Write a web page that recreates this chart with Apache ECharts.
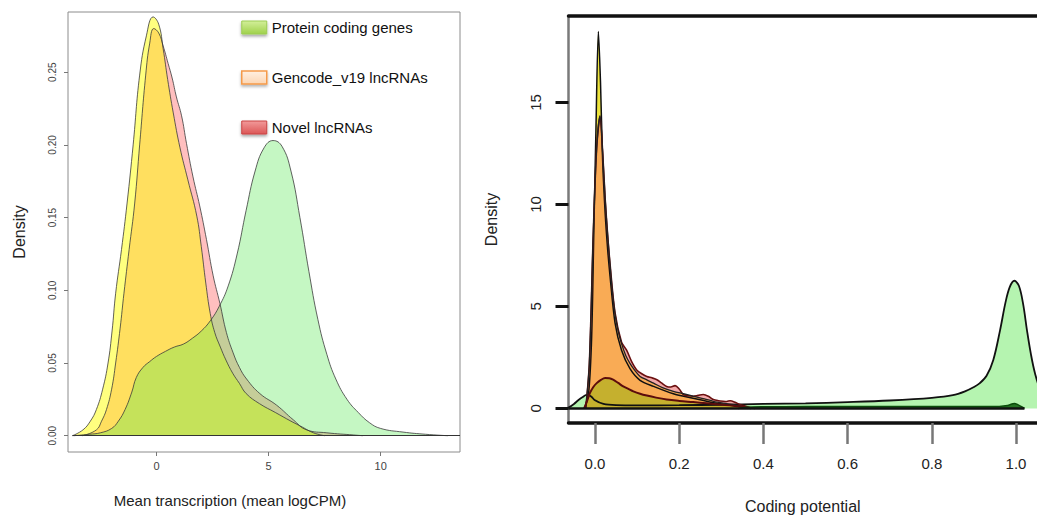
<!DOCTYPE html>
<html>
<head>
<meta charset="utf-8">
<script src="https://cdn.jsdelivr.net/npm/echarts@6/dist/echarts.min.js"></script>
<style>
html,body{margin:0;padding:0;background:#fff;}
#chart{width:1037px;height:519px;}
</style>
</head>
<body>
<div id="chart"></div>
<script>
// ---------- Left panel: mean transcription (logCPM) densities ----------
const leftXTicks = [0, 5, 10];
const leftYTicks = [0, 0.05, 0.10, 0.15, 0.20, 0.25];

const protLeftX = [-3.7,-3.0,-2.5,-2.0,-1.7,-1.4,-1.1,-0.9,-0.6,-0.3,0,0.4,0.8,1.2,1.6,2.0,2.4,2.8,3.2,3.6,4.0,4.4,4.8,5.2,5.6,6.0,6.4,6.8,7.2,7.6,8.0,8.5,9.0,9.5,10.0,11.0,12.0,13.0];
const protLeftY = [0,0.001,0.002,0.005,0.01,0.018,0.03,0.04,0.047,0.051,0.0545,0.058,0.061,0.063,0.067,0.072,0.079,0.089,0.103,0.125,0.155,0.182,0.198,0.203,0.199,0.182,0.15,0.113,0.08,0.056,0.039,0.025,0.016,0.009,0.005,0.0025,0.001,0];

const gencodeLeftX = [-3.75,-3.28,-2.95,-2.68,-2.4,-2.16,-1.98,-1.82,-1.56,-1.31,-1.04,-0.75,-0.45,-0.15,0.1,0.3,0.5,0.75,1.05,1.4,1.8,2.0,2.2,2.4,2.6,2.85,3.1,3.4,3.7,4.0,4.6,5.3,6.0,6.5,7.0,7.5];
const gencodeLeftY = [0,0.004,0.01,0.018,0.032,0.05,0.072,0.098,0.128,0.16,0.2,0.248,0.275,0.288,0.283,0.266,0.245,0.222,0.198,0.176,0.151,0.13,0.105,0.084,0.071,0.061,0.052,0.043,0.036,0.029,0.022,0.016,0.01,0.006,0.002,0];

const novelLeftX = [-3.3,-2.68,-2.45,-2.23,-2.0,-1.82,-1.62,-1.45,-1.22,-0.97,-0.75,-0.48,-0.3,-0.12,0.1,0.3,0.52,0.7,0.89,1.12,1.34,1.63,1.93,2.23,2.53,2.83,3.12,3.42,3.7,4.02,4.61,5.36,6.1,6.7,7.6,8.8,9.2];
const novelLeftY = [0,0.004,0.01,0.018,0.032,0.05,0.074,0.098,0.128,0.16,0.2,0.248,0.27,0.28,0.277,0.268,0.256,0.246,0.233,0.22,0.201,0.178,0.158,0.135,0.11,0.091,0.071,0.057,0.047,0.039,0.029,0.021,0.011,0.004,0.002,0.0005,0];

// ---------- Right panel: coding potential densities ----------
const rightXTicks = [0, 0.2, 0.4, 0.6, 0.8, 1.0];
const rightYTicks = [0, 5, 10, 15];

const protRightX = [-0.07,-0.063,-0.05,-0.04,-0.03,-0.02,-0.01,0,0.02,0.05,0.1,0.2,0.3,0.4,0.5,0.6,0.7,0.8,0.85,0.88,0.9,0.914,0.93,0.946,0.962,0.975,0.985,0.996,1.007,1.017,1.026,1.035,1.045,1.06,1.08,1.1,1.12];
const protRightY = [0,0.04,0.22,0.4,0.55,0.66,0.6,0.4,0.22,0.16,0.15,0.16,0.18,0.22,0.25,0.31,0.39,0.52,0.65,0.85,1.05,1.24,1.6,2.38,3.83,5.2,5.95,6.26,6.0,5.1,3.83,2.7,1.73,0.8,0.3,0.1,0];

const spikeRightX = [-0.025,-0.015,-0.008,-0.003,0.002,0.008,0.013,0.018,0.024,0.03,0.0356,0.0475,0.063,0.083,0.107,0.139,0.186,0.233,0.281,0.329,0.37];
const spikeRightY = [0,0.8,3.5,8.5,13.5,18.48,16.0,12.2,9.6,7.8,6.5,4.2,2.85,1.95,1.38,1.08,0.72,0.5,0.28,0.14,0];

const novelRightX = [-0.022,-0.0135,-0.004,0.004,0.0119,0.018,0.024,0.03,0.0356,0.0475,0.063,0.075,0.087,0.099,0.111,0.123,0.135,0.147,0.158,0.17,0.18,0.19,0.2,0.21,0.222,0.233,0.245,0.257,0.269,0.281,0.293,0.305,0.313,0.321,0.333,0.344,0.356,0.368,0.38];
const novelRightY = [0,2.2,8.7,12.8,14.3,12.6,10.3,8.5,7.1,4.7,3.25,2.86,2.3,1.89,1.7,1.57,1.5,1.41,1.25,1.08,1.05,1.12,0.95,0.68,0.62,0.6,0.64,0.68,0.6,0.44,0.38,0.35,0.34,0.38,0.3,0.19,0.12,0.05,0];

const gencodeRightX = [-0.022,-0.0135,-0.004,0.004,0.0119,0.018,0.024,0.03,0.0356,0.0415,0.0475,0.055,0.063,0.073,0.083,0.095,0.107,0.123,0.139,0.16,0.186,0.21,0.233,0.26,0.281,0.305,0.329,0.35,0.37];
const gencodeRightY = [0,2.2,8.7,12.8,14.35,12.6,10.3,8.5,7.07,5.7,4.64,3.8,3.18,2.6,2.21,1.85,1.57,1.4,1.24,1.02,0.84,0.72,0.6,0.47,0.35,0.26,0.19,0.1,0];

const broadRightX = [-0.026,-0.02,-0.012,-0.004,0.004,0.014,0.024,0.034,0.043,0.055,0.067,0.08,0.091,0.107,0.123,0.145,0.17,0.2,0.233,0.265,0.297,0.32,0.344,0.36,0.365];
const broadRightY = [0,0.3,0.76,1.05,1.24,1.4,1.49,1.48,1.41,1.25,1.08,0.95,0.84,0.72,0.63,0.53,0.44,0.37,0.31,0.25,0.19,0.15,0.1,0.07,0];

const darkRightX = [0.34,0.36,0.4,0.5,0.6,0.7,0.8,0.9,0.96,0.98,0.99,0.996,1.003,1.012,1.02];
const darkRightY = [0,0.06,0.08,0.09,0.1,0.1,0.1,0.1,0.1,0.14,0.22,0.24,0.2,0.1,0];

const legendNames = ['Protein coding genes', 'Gencode_v19 lncRNAs', 'Novel lncRNAs'];

// ---------- build ----------
const zip = (xs, ys) => xs.map((x, i) => [x, ys[i]]);
const FONT = 'Liberation Sans, Arial, Helvetica, sans-serif';

function area(name, xi, yi, xs, ys, fill, stroke, width, smooth, extra) {
  return Object.assign({
    name: name, type: 'line', xAxisIndex: xi, yAxisIndex: yi,
    data: zip(xs, ys), symbol: 'none', smooth: smooth,
    lineStyle: { color: stroke, width: width },
    itemStyle: { color: fill },
    areaStyle: { color: fill, opacity: 1 },
    z: 2
  }, extra || {});
}

const chart = echarts.init(document.getElementById('chart'), null, { renderer: 'svg' });

const option = {
  animation: false,
  backgroundColor: '#ffffff',
  textStyle: { fontFamily: FONT },
  grid: [
    { left: 68, top: 12, width: 392, height: 440, show: true, borderColor: '#8c8c8c', borderWidth: 1, backgroundColor: 'transparent' },
    { left: 568.5, top: 16, width: 468.5, height: 411, show: false }
  ],
  legend: {
    orient: 'vertical', left: 241, top: 20, padding: 0,
    itemWidth: 25, itemHeight: 13, itemGap: 35,
    textStyle: { fontSize: 15, color: '#111', fontFamily: FONT },
    data: [
      { name: legendNames[0], icon: 'rect', itemStyle: { color: { type: 'linear', x: 0, y: 0, x2: 0, y2: 1, colorStops: [{ offset: 0, color: '#d3ef9a' }, { offset: 1, color: '#9fd14a' }] }, borderColor: '#9ccc55', borderWidth: 1, shadowBlur: 3, shadowOffsetY: 2, shadowColor: 'rgba(0,0,0,0.35)' } },
      { name: legendNames[1], icon: 'rect', itemStyle: { color: { type: 'linear', x: 0, y: 0, x2: 0, y2: 1, colorStops: [{ offset: 0, color: '#fff0e2' }, { offset: 1, color: '#fcd6b4' }] }, borderColor: '#f59a4a', borderWidth: 1.5, shadowBlur: 3, shadowOffsetY: 2, shadowColor: 'rgba(0,0,0,0.3)' } },
      { name: legendNames[2], icon: 'rect', itemStyle: { color: { type: 'linear', x: 0, y: 0, x2: 0, y2: 1, colorStops: [{ offset: 0, color: '#f29a9a' }, { offset: 1, color: '#dc5656' }] }, borderColor: '#c94545', borderWidth: 1, shadowBlur: 3, shadowOffsetY: 2, shadowColor: 'rgba(0,0,0,0.35)' } }
    ]
  },
  xAxis: [
    {
      gridIndex: 0, type: 'value', min: -3.946, max: 13.54,
      axisLine: { show: false, onZero: false },
      axisTick: { show: true, customValues: leftXTicks, length: 4, lineStyle: { color: '#777', width: 1 } },
      axisLabel: { customValues: leftXTicks, fontSize: 11, color: '#444', margin: 8 },
      splitLine: { show: false },
      name: 'Mean transcription (mean logCPM)', nameLocation: 'middle', nameGap: 41,
      nameTextStyle: { fontSize: 15, color: '#222', padding: [0, 68, 0, 0] }
    },
    {
      gridIndex: 1, type: 'value', min: -0.063, max: 1.0498,
      axisLine: { show: true, onZero: false, lineStyle: { color: '#111', width: 3.5 } },
      axisTick: { show: true, customValues: rightXTicks, length: 21, lineStyle: { color: '#777', width: 2.5 } },
      axisLabel: { customValues: rightXTicks, fontSize: 15, color: '#222', margin: 33, formatter: v => v.toFixed(1) },
      splitLine: { show: false },
      name: 'Coding potential', nameLocation: 'middle', nameGap: 75,
      nameTextStyle: { fontSize: 16, color: '#222' }
    },
    {
      gridIndex: 1, type: 'value', min: -0.063, max: 1.0498, position: 'top',
      axisLine: { show: true, onZero: false, lineStyle: { color: '#111', width: 3.5 } },
      axisTick: { show: false }, axisLabel: { show: false }, splitLine: { show: false }
    }
  ],
  yAxis: [
    {
      gridIndex: 0, type: 'value', min: -0.0112, max: 0.2914,
      axisLine: { show: false, onZero: false },
      axisTick: { show: true, customValues: leftYTicks, length: 4, lineStyle: { color: '#777', width: 1 } },
      axisLabel: { customValues: leftYTicks, fontSize: 10, color: '#444', rotate: 90, margin: 11, formatter: v => v.toFixed(2) },
      splitLine: { show: false },
      name: 'Density', nameLocation: 'middle', nameRotate: 90, nameGap: 41,
      nameTextStyle: { fontSize: 16, color: '#222' }
    },
    {
      gridIndex: 1, type: 'value', min: -0.714, max: 19.24,
      axisLine: { show: true, onZero: false, lineStyle: { color: '#7a7a7a', width: 2.5 } },
      axisTick: { show: true, customValues: rightYTicks, length: 13, lineStyle: { color: '#111', width: 3 } },
      axisLabel: { customValues: rightYTicks, fontSize: 15, color: '#222', rotate: 90, margin: 26 },
      splitLine: { show: false },
      name: 'Density', nameLocation: 'middle', nameRotate: 90, nameGap: 69,
      nameTextStyle: { fontSize: 16, color: '#222' }
    }
  ],
  series: [
    // left panel
    area(legendNames[2], 0, 0, novelLeftX, novelLeftY, 'rgba(255,0,0,0.25)', '#3a3a3a', 0.8, 0.45),
    area(legendNames[1], 0, 0, gencodeLeftX, gencodeLeftY, 'rgba(255,255,0,0.5)', '#3a3a3a', 0.8, 0.45),
    area(legendNames[0], 0, 0, protLeftX, protLeftY, 'rgba(89,232,83,0.35)', '#3a3a3a', 0.8, 0.45, {
      markLine: {
        silent: true, symbol: 'none', label: { show: false },
        lineStyle: { color: '#333', width: 1, type: 'solid' },
        data: [[{ coord: [-3.75, 0] }, { coord: [13.54, 0] }]]
      }
    }),
    // right panel
    area('CP protein coding', 1, 1, protRightX, protRightY, 'rgba(90,230,80,0.45)', '#111', 1.8, 0.35),
    area('CP spike', 1, 1, spikeRightX, spikeRightY, 'rgba(235,225,40,0.9)', '#111', 1.5, 0.3),
    area('CP novel', 1, 1, novelRightX, novelRightY, 'rgba(235,110,110,0.6)', '#6a1010', 1.6, 0.3),
    area('CP gencode', 1, 1, gencodeRightX, gencodeRightY, '#f9ab55', '#222', 1.3, 0.3),
    area('CP broad', 1, 1, broadRightX, broadRightY, 'rgba(184,177,36,0.8)', '#5c0c0c', 2, 0.35),
    area('CP other', 1, 1, darkRightX, darkRightY, 'rgba(20,100,20,0.9)', '#0b4d0b', 1.5, 0.3, {
      markLine: {
        silent: true, symbol: 'none', label: { show: false },
        lineStyle: { color: '#111', width: 2.5, type: 'solid' },
        data: [[{ coord: [-0.063, 0] }, { coord: [1.02, 0] }]]
      }
    })
  ]
};
chart.setOption(option);
</script>
</body>
</html>
